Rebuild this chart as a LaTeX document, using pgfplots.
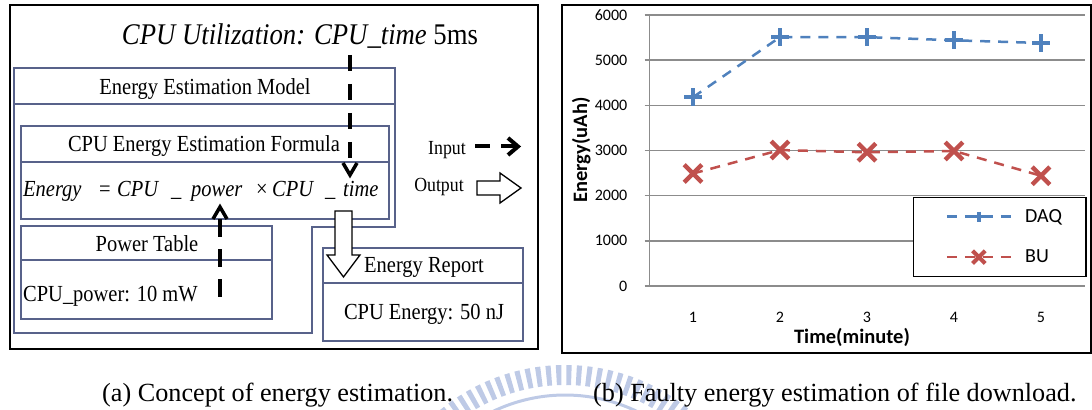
\documentclass[border=0pt]{standalone}
\usepackage{pgfplots}
\usepackage{pgfplotstable}
\pgfplotsset{compat=1.18}
\usepackage{fontspec}
\setmainfont{Liberation Serif}
\newfontfamily\tnr[FakeStretch=0.89]{Liberation Serif}
\newfontfamily\calfont{Carlito}
\definecolor{daq}{RGB}{79,129,189}
\definecolor{bu}{RGB}{192,80,77}
\definecolor{boxc}{RGB}{88,98,138}
\definecolor{gridc}{RGB}{140,140,140}
\definecolor{wm}{RGB}{190,202,230}
\newcommand\fs[1]{\fontsize{#1bp}{#1bp}\selectfont}

\pgfplotstableread{
x daq bu
1 4180 2490
2 5510 3010
3 5510 2960
4 5440 2990
5 5380 2440
}\energydata

\begin{document}
\begin{tikzpicture}
\useasboundingbox (0,0) rectangle (1092bp,410bp);
% faint watermark behind the captions
\begin{scope}
\clip (0,0) rectangle (1092bp,410bp);
\draw[wm, line width=20bp, dash pattern=on 5bp off 5bp] (565bp,-151bp) ++(48:186bp) arc[start angle=48,end angle=132,radius=186bp];
\draw[wm, line width=3bp] (565bp,-151bp) ++(60:166bp) arc[start angle=60,end angle=120,radius=166bp];
\end{scope}

\begin{scope}[x=1bp,y=-1bp,shift={(0,410bp)}]
% ---------- left diagram ----------
\draw[black, line width=1.3bp] (10,5) rectangle (538,349);
\node[anchor=base, font=\tnr\fs{30}, inner sep=0pt] at (300,45) {\itshape CPU Utilization: CPU\_time \upshape 5ms};

\begin{scope}[boxc, line width=1.3bp]
\draw (14,68) -- (395,68) -- (395,227) -- (312,227) -- (312,333) -- (14,333) -- cycle;
\draw (14,104) -- (395,104);
\draw (21,126) rectangle (389,219);
\draw (21,162) -- (389,162);
\draw (21,226) rectangle (272,319);
\draw (21,260) -- (272,260);
\draw (323,248) rectangle (523,341);
\draw (323,283) -- (523,283);
\end{scope}

\begin{scope}[font=\tnr\fs{23}, inner sep=0pt]
\node[anchor=base] at (205,95) {Energy Estimation Model};
\node[anchor=base] at (204,152) {CPU Energy Estimation Formula};
\node[anchor=base west] at (23,197) {\itshape Energy};
\node[anchor=base west] at (99,197) {=};
\node[anchor=base west] at (117,197) {\itshape CPU};
\node[anchor=base west] at (171,197) {\itshape \_};
\node[anchor=base west] at (191,197) {\itshape power};
\node[anchor=base west] at (256,197) {×};
\node[anchor=base west] at (272,197) {\itshape CPU};
\node[anchor=base west] at (325,197) {\itshape \_};
\node[anchor=base west] at (343,197) {\itshape time};
\node[anchor=base] at (147,252) {Power Table};
\node[anchor=base west] at (23,302) {CPU\_power: 10 mW};
\node[anchor=base] at (424,320) {CPU Energy: 50 nJ};
\end{scope}

% dashed input arrows
\draw[line width=3.5bp, dash pattern=on 16bp off 13bp] (350,55) -- (350,162);
\draw[line width=3.5bp, miter limit=10] (343,163) -- (350,175) -- (357,163);
\draw[line width=3.5bp, dash pattern=on 18bp off 12bp] (220,297) -- (220,212);
\draw[line width=3.5bp, miter limit=10] (213,219) -- (220,207) -- (227,219);

% hollow output arrow (covers box lines)
\draw[black, line width=1.3bp, fill=white] (335,211) -- (352,211) -- (352,255) -- (360,255) -- (343.5,277) -- (327,255) -- (335,255) -- cycle;
\node[anchor=base, font=\tnr\fs{23}, inner sep=0pt] at (424,273) {Energy Report};

% key
\node[anchor=base, font=\tnr\fs{20}, inner sep=0pt] at (447,155) {Input};
\draw[line width=4bp] (475,146.5) -- (490,146.5);
\draw[line width=4bp] (501,146.5) -- (515,146.5);
\draw[line width=4bp, miter limit=10] (508,138) -- (518,146.5) -- (508,155);
\node[anchor=base, font=\tnr\fs{20}, inner sep=0pt] at (439,192) {Output};
\draw[black, line width=1.3bp, fill=white] (477,181) -- (500,181) -- (500,173) -- (521,188) -- (500,203) -- (500,195) -- (477,195) -- cycle;

% right frame
\draw[black, line width=1.5bp] (562,5) rectangle (1091,353);

% captions
\node[anchor=base west, font=\fs{26.2}, inner sep=0pt] at (102,402) {(a) Concept of energy estimation.};
\node[anchor=base west, font=\fs{26.2}, inner sep=0pt] at (593,402) {(b) Faulty energy estimation of file download.};
\end{scope}

% ---------- chart ----------
\begin{axis}[
  at={(649.5bp,124bp)}, anchor=south west,
  scale only axis, width=435bp, height=271bp,
  xmin=0.5, xmax=5.5, ymin=0, ymax=6000,
  xtick={1,2,3,4,5}, ytick={0,1000,2000,3000,4000,5000,6000},
  axis x line*=bottom, axis y line*=left,
  x axis line style={draw=none},
  y axis line style={gridc, line width=1.5bp},
  ymajorgrids, major grid style={gridc, line width=1.5bp},
  xtick style={draw=none}, ytick style={gridc, line width=1.5bp},
  tick align=outside, major tick length=5bp,
  scaled y ticks=false,
  /pgf/number format/assume math mode=true,
  /pgf/number format/set thousands separator={},
  tick label style={font=\calfont\fs{16}, inner sep=0pt},
  yticklabel style={anchor=east, xshift=-17bp},
  xticklabel style={anchor=center, yshift=-26bp},
  xlabel={Time(minute)}, ylabel={Energy(uAh)},
  label style={font=\calfont\bfseries\fs{20.5}},
  xlabel style={at={(axis description cs:0.4655,-0.19)}, anchor=center},
  ylabel style={at={(axis description cs:-0.157,0.502)}, anchor=center, rotate=0},
  clip=false,
  legend style={at={(axis description cs:1.005,0.033)}, anchor=south east,
    draw=black, line width=1.5bp, fill=white, font=\calfont\fs{20},
    inner xsep=32bp, inner ysep=12bp, row sep=26bp, column sep=13bp,
    cells={anchor=west}, nodes={inner sep=0pt}},
  legend image code/.code={%
    \draw[mark repeat=2, mark phase=2] plot coordinates {(0bp,0bp) (32bp,0bp) (64bp,0bp)};},
]
\addplot[daq, line width=2.5bp, dash pattern=on 10bp off 8bp, mark=+, mark size=9bp,
  mark options={solid, line width=4bp},
  legend image post style={mark size=5bp, every mark/.append style={line width=3.5bp}}]
  table[x=x, y=daq]{\energydata};
\addlegendentry{DAQ\hspace*{-8bp}}
\addplot[bu, line width=2.5bp, dash pattern=on 10bp off 8bp, mark=x, mark size=12.5bp,
  mark options={solid, line width=4.5bp},
  legend image post style={mark size=9bp, every mark/.append style={line width=4bp}}]
  table[x=x, y=bu]{\energydata};
\addlegendentry{BU}
\end{axis}
\end{tikzpicture}
\end{document}
